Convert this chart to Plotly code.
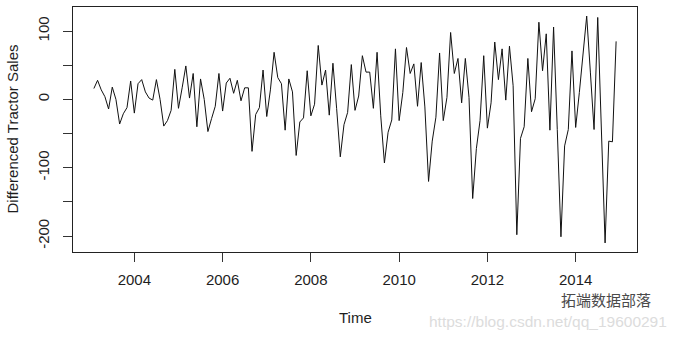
import numpy as np
import plotly.graph_objects as go

# Differenced monthly tractor sales (first difference), Feb 2003 .. Dec 2014
diff_2003 = [16, 28, 14, 4, -14, 18, 0, -36, -21, -12, 27]          # Feb..Dec
diff_2004 = [-20, 23, 29, 11, 2, -1, 29, 0, -39, -31, -16, 44]
diff_2005 = [-13, 17, 49, 2, 38, -40, 30, 0, -47, -28, -10, 38]
diff_2006 = [-17, 24, 31, 9, 28, -2, 17, 17, -76, -22, -12, 43]
diff_2007 = [-25, 14, 69, 32, 23, -45, 30, 11, -82, -33, -27, 42]
diff_2008 = [-24, -7, 79, 21, 43, -23, 53, -13, -84, -37, -19, 51]
diff_2009 = [-16, 5, 64, 40, 40, -13, 69, -24, -93, -48, -30, 74]
diff_2010 = [-31, 10, 76, 38, 52, -10, 54, -11, -120, -61, -26, 68]
diff_2011 = [-31, 3, 98, 38, 60, -5, 60, 3, -145, -72, -31, 64]
diff_2012 = [-42, -5, 84, 29, 74, -1, 78, 20, -198, -57, -40, 60]
diff_2013 = [-18, 1, 113, 42, 96, -45, 106, -44, -201, -68, -44, 71]
diff_2014 = [-41, 10, 65, 122, 40, -44, 120, -40, -210, -61, -62, 85]

start_year = 2003
start_month = 2
x_ticks = [2004, 2006, 2008, 2010, 2012, 2014]
y_ticks = [100, 50, 0, -50, -100, -150, -200]
y_tick_labels = ["100", "", "0", "", "-100", "", "-200"]

values = (diff_2003 + diff_2004 + diff_2005 + diff_2006 + diff_2007 + diff_2008
          + diff_2009 + diff_2010 + diff_2011 + diff_2012 + diff_2013 + diff_2014)
time = start_year + (start_month - 1 + np.arange(len(values))) / 12.0

def padded(lo, hi, f=0.04):
    s = hi - lo
    return [lo - f * s, hi + f * s]

FONT = "Liberation Sans, Arial, sans-serif"
TXT = "#1e1e1e"

fig = go.Figure()
fig.add_trace(go.Scatter(x=time, y=values, mode="lines",
                         line=dict(color="#111111", width=1), showlegend=False,
                         hoverinfo="skip"))

axis_common = dict(showgrid=False, zeroline=False, showline=True, linecolor="#222222",
                   linewidth=1, mirror=True, ticks="outside", ticklen=9, tickwidth=1,
                   tickcolor="#333333", tickfont=dict(family=FONT, size=15, color=TXT))

fig.update_xaxes(range=padded(time.min(), time.max()), tickvals=x_ticks,
                 ticktext=[str(v) for v in x_ticks], ticklabelstandoff=5, **axis_common)
fig.update_yaxes(range=padded(min(values), max(values)), tickvals=y_ticks,
                 ticktext=y_tick_labels, tickangle=-90, ticklabelstandoff=8, **axis_common)

fig.add_annotation(text="Differenced Tractor Sales", xref="paper", yref="paper",
                   x=0, y=0.5, xanchor="center", yanchor="middle", xshift=-61,
                   textangle=-90, showarrow=False,
                   font=dict(family=FONT, size=15, color=TXT))
fig.add_annotation(text="Time", xref="paper", yref="paper", x=0.5, y=0,
                   xanchor="center", yanchor="middle", yshift=-65, showarrow=False,
                   font=dict(family=FONT, size=15, color=TXT))
# watermarks
fig.add_annotation(text="拓端数据部落", xref="paper", yref="paper", x=1, y=0,
                   xanchor="left", yanchor="middle", xshift=-78, yshift=-47,
                   showarrow=False,
                   font=dict(family="Noto Sans CJK SC", size=15, color="#4a4a4a"))
fig.add_annotation(text="https://blog.csdn.net/qq_19600291", xref="paper", yref="paper",
                   x=1, y=0, xanchor="left", yanchor="middle", xshift=-210, yshift=-69,
                   showarrow=False,
                   font=dict(family=FONT, size=15.5, color="#dcdcdc"))

fig.update_layout(width=677, height=339, margin=dict(l=73, r=40, t=7, b=87),
                  paper_bgcolor="white", plot_bgcolor="white")
fig.write_html("out.html")
